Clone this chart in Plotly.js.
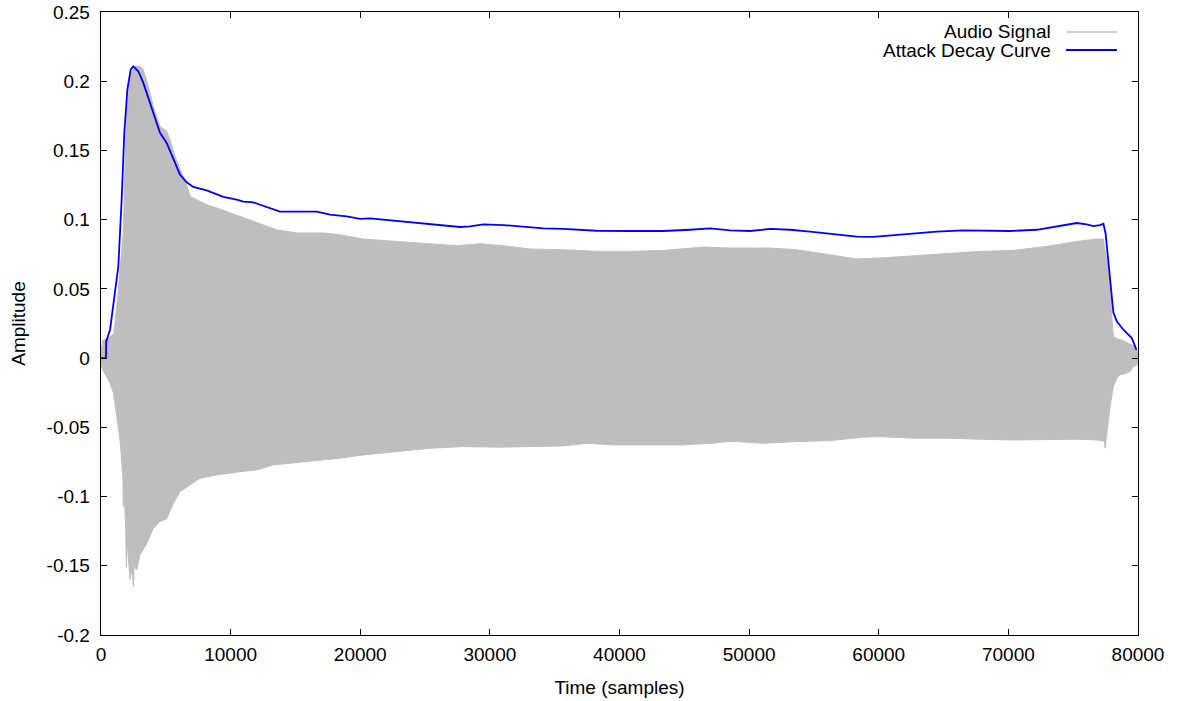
<!DOCTYPE html>
<html>
<head>
<meta charset="utf-8">
<script src="https://cdn.plot.ly/plotly-3.0.1.min.js"></script>
<style>html,body{margin:0;padding:0;background:#fff;}#chart{width:1181px;height:701px;}</style>
</head>
<body>
<div id="chart"></div>
<script>
// Audio signal envelope (upper edge)
const upperX = [0, 150, 700, 1000, 1336, 1594, 1723, 1852, 1980, 2150, 2400, 2623, 3009, 3264, 3650, 4036, 4300, 4552, 5068, 5323, 5710, 6350, 6735, 6866, 7383, 8155, 8926, 9952, 10978, 12012, 13555, 15098, 17150, 18440, 20238, 22812, 25383, 27440, 29240, 31038, 33096, 35667, 38239, 40812, 43383, 44926, 46470, 48527, 51613, 53670, 55727, 58301, 60100, 62668, 65240, 67811, 70383, 72960, 75274, 76817, 77331, 77588, 77845, 77973, 78102, 78360, 78617, 78874, 79388, 79645, 79900, 80000];
const upperY = [0.005, 0.013, 0.015, 0.018, 0.049, 0.080, 0.0904, 0.1386, 0.1795, 0.198, 0.207, 0.2106, 0.2106, 0.2084, 0.1963, 0.1819, 0.175, 0.1674, 0.1638, 0.1578, 0.1457, 0.1313, 0.1217, 0.1168, 0.1144, 0.1108, 0.1084, 0.1048, 0.1012, 0.0976, 0.0927, 0.0904, 0.0904, 0.0891, 0.0860, 0.0843, 0.0826, 0.0812, 0.0826, 0.0812, 0.0788, 0.0783, 0.0771, 0.0771, 0.0778, 0.0788, 0.0802, 0.0795, 0.0795, 0.0783, 0.0754, 0.0716, 0.0723, 0.0740, 0.0759, 0.0771, 0.0778, 0.0807, 0.0843, 0.0860, 0.0860, 0.0711, 0.054, 0.030, 0.0156, 0.0140, 0.0132, 0.0128, 0.0100, 0.0090, 0.006, 0.004];

// Audio signal envelope (lower edge)
const lowerX = [0, 128, 694, 951, 1208, 1466, 1690, 1720, 1750, 1900, 1960, 2000, 2237, 2400, 2494, 2560, 2752, 3009, 3524, 4036, 4552, 5068, 5578, 6095, 6866, 7638, 8926, 10724, 12012, 13295, 15870, 18440, 20238, 22812, 25383, 27954, 30525, 33096, 35667, 37468, 39524, 42098, 44670, 47241, 48527, 51098, 53670, 56243, 58812, 60100, 62668, 65240, 67811, 70383, 72960, 75530, 76817, 77400, 77460, 77520, 77588, 77845, 78102, 78360, 78617, 78874, 79388, 79645, 79900, 80000];
const lowerY = [-0.004, -0.0085, -0.018, -0.025, -0.042, -0.059, -0.086, -0.107, -0.090, -0.120, -0.151, -0.130, -0.160, -0.152, -0.165, -0.150, -0.153, -0.142, -0.134, -0.123, -0.118, -0.116, -0.105, -0.0964, -0.0916, -0.0868, -0.0844, -0.0820, -0.0808, -0.0771, -0.0747, -0.0723, -0.0699, -0.0675, -0.0651, -0.0639, -0.0643, -0.0639, -0.0634, -0.0615, -0.0627, -0.0627, -0.0627, -0.0615, -0.0600, -0.0615, -0.0603, -0.0596, -0.0571, -0.0567, -0.0578, -0.0578, -0.0586, -0.0591, -0.0591, -0.0586, -0.0591, -0.060, -0.065, -0.058, -0.0542, -0.0350, -0.0205, -0.0145, -0.012, -0.0115, -0.0097, -0.006, -0.005, -0.003];

// Attack decay curve
const curveX = [0, 380, 400, 700, 1000, 1336, 1594, 1800, 2032, 2290, 2494, 2880, 3264, 3650, 4036, 4552, 5068, 5578, 6095, 6612, 7120, 8148, 8664, 9436, 10469, 10978, 11750, 12522, 13810, 16640, 17667, 18954, 19981, 20753, 21780, 22812, 24356, 25899, 27697, 28468, 29495, 31038, 32581, 34124, 35667, 38239, 40812, 43383, 45441, 46984, 48527, 50070, 51613, 53157, 54700, 56243, 58301, 59585, 61387, 62931, 64474, 66531, 68074, 70131, 72188, 73474, 74245, 75274, 76046, 76560, 77074, 77331, 77500, 77700, 77900, 78100, 78360, 78874, 79517, 79880];
const curveY = [0, 0, 0.012, 0.0205, 0.042, 0.066, 0.1145, 0.163, 0.194, 0.2084, 0.2108, 0.2072, 0.1988, 0.1880, 0.1759, 0.1627, 0.1554, 0.1434, 0.1325, 0.1270, 0.1236, 0.1212, 0.1193, 0.1164, 0.1144, 0.1130, 0.1125, 0.1101, 0.1058, 0.1058, 0.1036, 0.1024, 0.1005, 0.1009, 0.1000, 0.0990, 0.0976, 0.0964, 0.0947, 0.0951, 0.0966, 0.0961, 0.0951, 0.0937, 0.0933, 0.0920, 0.0918, 0.0918, 0.0927, 0.0937, 0.0922, 0.0918, 0.0933, 0.0927, 0.0913, 0.0899, 0.0877, 0.0875, 0.0889, 0.0904, 0.0913, 0.0922, 0.0918, 0.0918, 0.0927, 0.0947, 0.0961, 0.0976, 0.0966, 0.0954, 0.0961, 0.0971, 0.090, 0.070, 0.048, 0.033, 0.0265, 0.0205, 0.0145, 0.006];

const seriesNames = ['Audio Signal', 'Attack Decay Curve'];
const xTicks = [0, 10000, 20000, 30000, 40000, 50000, 60000, 70000, 80000];
const yTicks = [-0.2, -0.15, -0.1, -0.05, 0, 0.05, 0.1, 0.15, 0.2, 0.25];
const yTickText = ['-0.2', '-0.15', '-0.1', '-0.05', '0', '0.05', '0.1', '0.15', '0.2', '0.25'];

const GRAY = '#bebebe';
const BLUE = '#0000ff';
const FONT = 'Liberation Sans, Arial, Helvetica, sans-serif';

const polyX = upperX.concat(lowerX.slice().reverse());
const polyY = upperY.concat(lowerY.slice().reverse());

const traces = [
  {
    x: polyX, y: polyY, type: 'scatter', mode: 'lines',
    fill: 'toself', fillcolor: GRAY,
    line: {color: GRAY, width: 1},
    name: seriesNames[0], showlegend: false, hoverinfo: 'skip'
  },
  {
    x: curveX, y: curveY, type: 'scatter', mode: 'lines',
    line: {color: BLUE, width: 1.8},
    name: seriesNames[1], showlegend: false
  }
];

const axisCommon = {
  showgrid: false, zeroline: false, showline: true, linecolor: '#000', linewidth: 1.3,
  mirror: 'allticks', ticks: 'inside', ticklen: 6, tickwidth: 1, tickcolor: '#000',
  tickfont: {family: FONT, size: 19, color: '#000'}
};

const layout = {
  width: 1181, height: 701,
  margin: {l: 101, r: 43, t: 12, b: 66},
  paper_bgcolor: '#fff', plot_bgcolor: '#fff',
  font: {family: FONT, size: 19, color: '#000'},
  showlegend: false,
  xaxis: Object.assign({}, axisCommon, {
    range: [0, 80000], tickmode: 'array', tickvals: xTicks,
    ticktext: xTicks.map(String), ticklabelstandoff: 2,
    title: {text: 'Time (samples)', font: {family: FONT, size: 19}, standoff: 16}
  }),
  yaxis: Object.assign({}, axisCommon, {
    range: [-0.2, 0.25], tickmode: 'array', tickvals: yTicks, ticktext: yTickText,
    ticklabelstandoff: 6,
    title: {text: 'Amplitude', font: {family: FONT, size: 19}, standoff: 16}
  }),
  annotations: [
    {xref: 'paper', yref: 'paper', x: 0.918, y: 0.968, xanchor: 'right', yanchor: 'middle',
     text: seriesNames[0], showarrow: false, font: {family: FONT, size: 19, color: '#000'}},
    {xref: 'paper', yref: 'paper', x: 0.918, y: 0.939, xanchor: 'right', yanchor: 'middle',
     text: seriesNames[1], showarrow: false, font: {family: FONT, size: 19, color: '#000'}}
  ],
  shapes: [
    {type: 'line', xref: 'paper', yref: 'paper', x0: 0.9306, x1: 0.9797, y0: 0.968, y1: 0.968,
     line: {color: GRAY, width: 1.5}},
    {type: 'line', xref: 'paper', yref: 'paper', x0: 0.9306, x1: 0.9797, y0: 0.939, y1: 0.939,
     line: {color: BLUE, width: 1.8}}
  ]
};

Plotly.newPlot('chart', traces, layout, {displayModeBar: false, staticPlot: true});
</script>
</body>
</html>
